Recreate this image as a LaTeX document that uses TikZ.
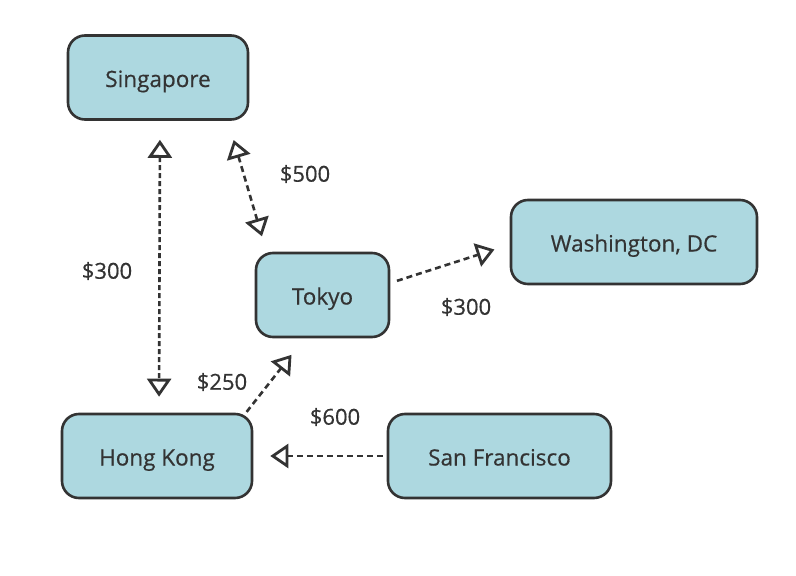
\documentclass[tikz,border=0pt]{standalone}
\usepackage{fontspec}
\setmainfont{Open Sans}[FakeBold=0.5]
\usetikzlibrary{arrows.meta}
\definecolor{boxfill}{HTML}{ADD8E0}
\definecolor{ink}{HTML}{333333}
\tikzset{
  city/.style={draw=ink, fill=boxfill, line width=2.6pt, rounded corners=17pt,
    minimum height=84pt, inner sep=0pt, text height=22pt, text depth=3pt,
    text=ink, font=\fontsize{22.5}{26}\selectfont, anchor=center},
  tip/.tip={Triangle[open, length=18pt, width=24pt, line width=2.8pt]},
  route/.style={draw=ink, line width=2.6pt, dash pattern=on 6pt off 4pt, -tip},
  both/.style={route, tip-tip},
  price/.style={text=ink, font=\fontsize{22}{25}\selectfont}
}
\begin{document}
\begin{tikzpicture}[x=1pt, y=-1pt]
\useasboundingbox (0,0) rectangle (796,576);
\node[city, minimum width=180pt] (sing) at (158,77.5) {Singapore};
\node[city, minimum width=246pt] (wash) at (634,242) {Washington, DC};
\node[city, minimum width=133pt] (tokyo) at (322.5,295) {Tokyo};
\node[city, minimum width=190pt] (hk) at (157,456) {Hong Kong};
\node[city, minimum width=223pt] (sf) at (499.5,456) {San Francisco};

\draw[both, dash pattern=on 5pt off 3pt, shorten <=19pt, shorten >=16pt] ([xshift=2pt]sing.south) -- ([xshift=2pt]hk.north);
\draw[both, shorten <=20pt, shorten >=16pt] ([xshift=70pt]sing.south) -- ([xshift=-56pt]tokyo.north);
\draw[route, shorten <=7pt, shorten >=16pt] ([yshift=12pt]tokyo.east) -- ([yshift=-2.6pt]wash.west);
\draw[route, shorten <=1pt, shorten >=21pt] ([xshift=89pt]hk.north) -- ([xshift=-18pt]tokyo.south);
\draw[route, shorten <=4pt, shorten >=17pt] (sf.west) -- (hk.east);

\node[price] (p1) at (107,271) {\$300};
\node[price] (p2) at (305,174) {\$500};
\node[price] (p3) at (466,307) {\$300};
\node[price] (p4) at (222,382) {\$250};
\node[price] (p5) at (335,417) {\$600};
\end{tikzpicture}
\end{document}
